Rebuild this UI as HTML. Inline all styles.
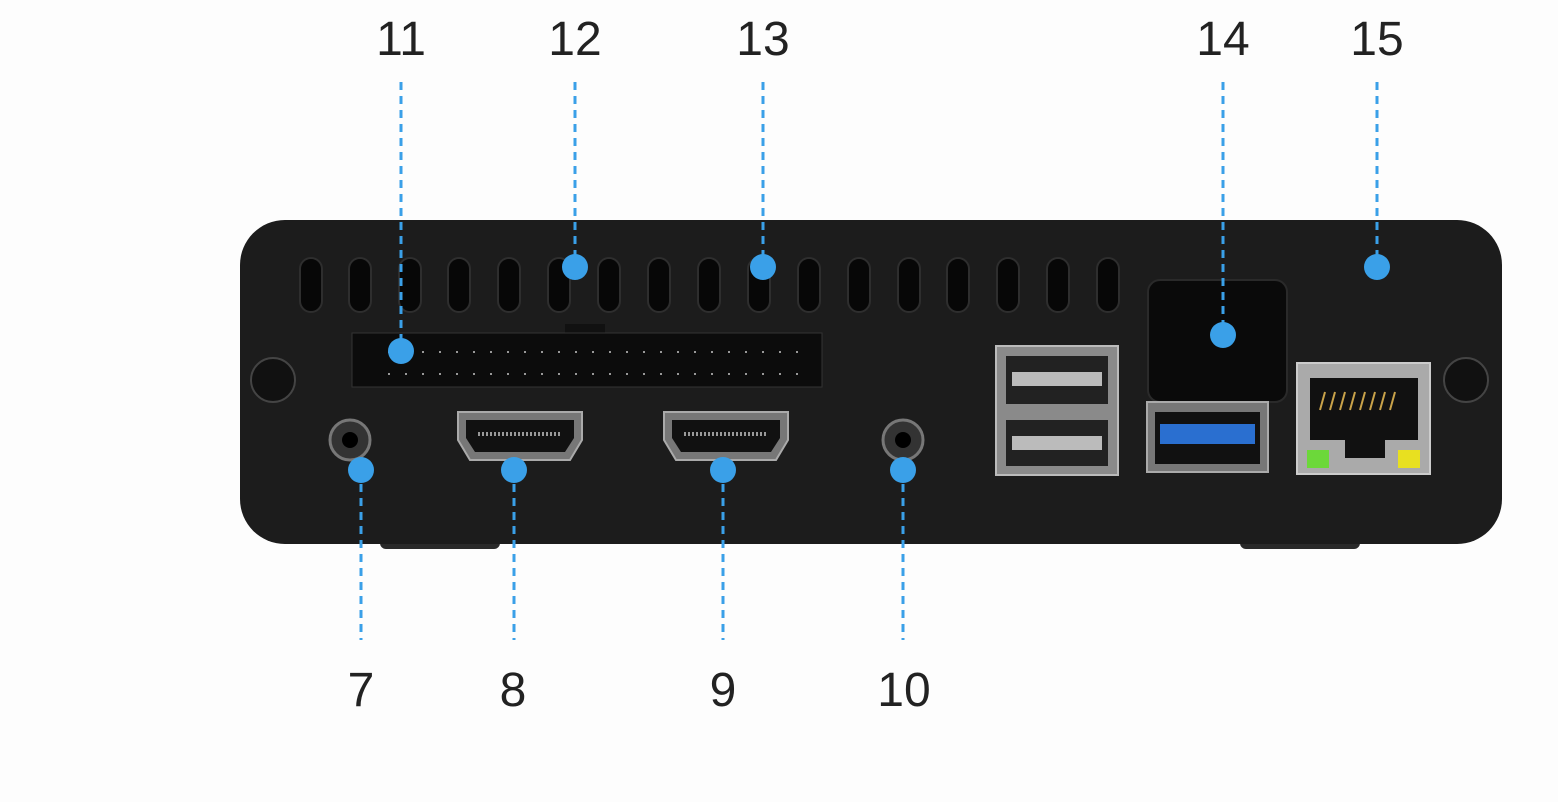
<!DOCTYPE html>
<html><head><meta charset="utf-8"><style>
html,body{margin:0;padding:0;background:#fdfdfd;}
svg{display:block}
text{font-family:"Liberation Sans",sans-serif;font-size:48px;fill:#222;text-anchor:middle}
</style></head><body>
<svg width="1558" height="802" viewBox="0 0 1558 802" xmlns="http://www.w3.org/2000/svg">
<rect width="1558" height="802" fill="#fdfdfd"/>
<!-- feet -->
<rect x="380" y="535" width="120" height="14" rx="6" fill="#2a2a2a"/>
<rect x="1240" y="535" width="120" height="14" rx="6" fill="#2a2a2a"/>
<!-- body -->
<rect x="240" y="220" width="1262" height="324" rx="45" fill="#1c1c1c"/>
<!-- vents -->
<g fill="#070707" stroke="#2e2e2e" stroke-width="2">
<rect x="300" y="258" width="22" height="54" rx="11"/>
<rect x="349" y="258" width="22" height="54" rx="11"/>
<rect x="399" y="258" width="22" height="54" rx="11"/>
<rect x="448" y="258" width="22" height="54" rx="11"/>
<rect x="498" y="258" width="22" height="54" rx="11"/>
<rect x="548" y="258" width="22" height="54" rx="11"/>
<rect x="598" y="258" width="22" height="54" rx="11"/>
<rect x="648" y="258" width="22" height="54" rx="11"/>
<rect x="698" y="258" width="22" height="54" rx="11"/>
<rect x="748" y="258" width="22" height="54" rx="11"/>
<rect x="798" y="258" width="22" height="54" rx="11"/>
<rect x="848" y="258" width="22" height="54" rx="11"/>
<rect x="898" y="258" width="22" height="54" rx="11"/>
<rect x="947" y="258" width="22" height="54" rx="11"/>
<rect x="997" y="258" width="22" height="54" rx="11"/>
<rect x="1047" y="258" width="22" height="54" rx="11"/>
<rect x="1097" y="258" width="22" height="54" rx="11"/>
</g>
<!-- screws -->
<circle cx="273" cy="380" r="22" fill="#111" stroke="#444" stroke-width="2"/>
<circle cx="1466" cy="380" r="22" fill="#111" stroke="#444" stroke-width="2"/>
<!-- GPIO -->
<rect x="565" y="324" width="40" height="10" fill="#111"/>
<rect x="352" y="333" width="470" height="54" fill="#0c0c0c" stroke="#333" stroke-width="1"/>
<g fill="#bbb">
<rect x="385" y="350" width="400" height="2" fill="none"/>
</g>
<g stroke="#999" stroke-width="2" stroke-dasharray="2 15">
<line x1="388" y1="352" x2="800" y2="352"/>
<line x1="388" y1="374" x2="800" y2="374"/>
</g>
<!-- audio jacks -->
<circle cx="350" cy="440" r="20" fill="#333" stroke="#777" stroke-width="3"/>
<circle cx="350" cy="440" r="8" fill="#000"/>
<circle cx="903" cy="440" r="20" fill="#333" stroke="#777" stroke-width="3"/>
<circle cx="903" cy="440" r="8" fill="#000"/>
<!-- HDMI -->
<g>
<path d="M458 412 H582 V440 L570 460 H470 L458 440 Z" fill="#777" stroke="#aaa" stroke-width="2"/>
<path d="M466 420 H574 V438 L565 452 H475 L466 438 Z" fill="#111"/>
<line x1="478" y1="434" x2="562" y2="434" stroke="#999" stroke-width="4" stroke-dasharray="2 2"/>
<path d="M664 412 H788 V440 L776 460 H676 L664 440 Z" fill="#777" stroke="#aaa" stroke-width="2"/>
<path d="M672 420 H780 V438 L771 452 H681 L672 438 Z" fill="#111"/>
<line x1="684" y1="434" x2="768" y2="434" stroke="#999" stroke-width="4" stroke-dasharray="2 2"/>
</g>
<!-- USB stacked -->
<rect x="996" y="346" width="122" height="129" fill="#8a8a8a" stroke="#bbb" stroke-width="2"/>
<rect x="1006" y="356" width="102" height="48" fill="#222"/>
<rect x="1012" y="372" width="90" height="14" fill="#bbb"/>
<rect x="1006" y="420" width="102" height="46" fill="#222"/>
<rect x="1012" y="436" width="90" height="14" fill="#bbb"/>
<!-- black block -->
<rect x="1148" y="280" width="139" height="122" rx="12" fill="#0a0a0a" stroke="#2a2a2a" stroke-width="2"/>
<!-- USB3 -->
<rect x="1147" y="402" width="121" height="70" fill="#777" stroke="#aaa" stroke-width="2"/>
<rect x="1155" y="412" width="105" height="52" fill="#111"/>
<rect x="1160" y="424" width="95" height="20" fill="#2a6fd0"/>
<!-- Ethernet -->
<rect x="1297" y="363" width="133" height="111" fill="#aaa" stroke="#ccc" stroke-width="2"/>
<path d="M1310 378 H1418 V440 H1385 V458 H1345 V440 H1310 Z" fill="#111"/>
<g stroke="#c9a34a" stroke-width="2">
<line x1="1325" y1="392" x2="1320" y2="410"/><line x1="1335" y1="392" x2="1330" y2="410"/>
<line x1="1345" y1="392" x2="1340" y2="410"/><line x1="1355" y1="392" x2="1350" y2="410"/>
<line x1="1365" y1="392" x2="1360" y2="410"/><line x1="1375" y1="392" x2="1370" y2="410"/>
<line x1="1385" y1="392" x2="1380" y2="410"/><line x1="1395" y1="392" x2="1390" y2="410"/>
</g>
<rect x="1307" y="450" width="22" height="18" fill="#6cd83a"/>
<rect x="1398" y="450" width="22" height="18" fill="#e8e020"/>
<!-- leaders -->
<g stroke="#3aa0e8" stroke-width="3" stroke-dasharray="8 6" fill="none">
<line x1="401" y1="82" x2="401" y2="350"/>
<line x1="575" y1="82" x2="575" y2="267"/>
<line x1="763" y1="82" x2="763" y2="267"/>
<line x1="1223" y1="82" x2="1223" y2="335"/>
<line x1="1377" y1="82" x2="1377" y2="267"/>
<line x1="361" y1="470" x2="361" y2="640"/>
<line x1="514" y1="470" x2="514" y2="640"/>
<line x1="723" y1="470" x2="723" y2="640"/>
<line x1="903" y1="470" x2="903" y2="640"/>
</g>
<g fill="#3aa0e8">
<circle cx="401" cy="351" r="13"/>
<circle cx="575" cy="267" r="13"/>
<circle cx="763" cy="267" r="13"/>
<circle cx="1223" cy="335" r="13"/>
<circle cx="1377" cy="267" r="13"/>
<circle cx="361" cy="470" r="13"/>
<circle cx="514" cy="470" r="13"/>
<circle cx="723" cy="470" r="13"/>
<circle cx="903" cy="470" r="13"/>
</g>
<text x="401" y="55">11</text>
<text x="575" y="55">12</text>
<text x="763" y="55">13</text>
<text x="1223" y="55">14</text>
<text x="1377" y="55">15</text>
<text x="361" y="706">7</text>
<text x="513" y="706">8</text>
<text x="723" y="706">9</text>
<text x="904" y="706">10</text>
</svg>
</body></html>
